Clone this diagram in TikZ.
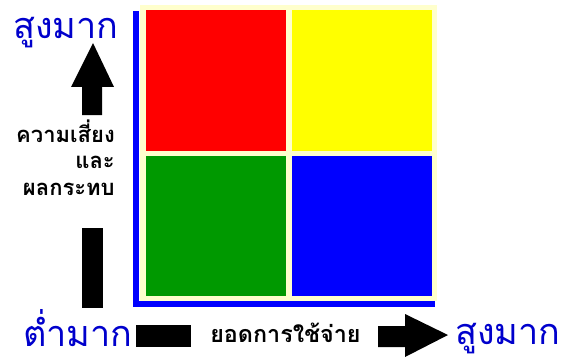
\documentclass[tikz,border=0pt]{standalone}
\usepackage{fontspec}
\newfontfamily\thaifont[Script=Thai]{Loma}
\definecolor{paleyel}{RGB}{255,255,204}
\definecolor{axisblue}{RGB}{0,0,255}
\definecolor{txtblue}{RGB}{0,0,204}
\definecolor{qred}{RGB}{255,0,0}
\definecolor{qyel}{RGB}{255,255,0}
\definecolor{qgreen}{RGB}{0,153,0}
\definecolor{qblue}{RGB}{0,0,255}
\tikzset{
  bigtxt/.style={inner sep=0pt,text=txtblue,font=\thaifont\fontsize{27}{30}\selectfont},
  lbltxt/.style={inner sep=0pt,text=black,font=\thaifont\bfseries\fontsize{16.5}{19}\selectfont},
  xlbltxt/.style={inner sep=0pt,text=black,font=\thaifont\bfseries\fontsize{17.5}{19}\selectfont},
  blk/.style={fill=black,draw=none}
}
\begin{document}
\begin{tikzpicture}[x=0.75pt,y=-0.75pt]
\useasboundingbox (0,0) rectangle (580,356);
% background panel
\fill[paleyel] (140,5) rectangle (437,301);
% axes
\fill[axisblue] (133,11) rectangle (139,307);
\fill[axisblue] (133,301) rectangle (435,307);
% quadrants
\fill[qred] (146,10) rectangle (286,151);
\fill[qyel] (292,10) rectangle (432,151);
\fill[qgreen] (146,156) rectangle (286,296);
\fill[qblue] (292,156) rectangle (432,296);
% up arrow
\fill[blk] (93,43) -- (114,87) -- (102,87) -- (102,115) -- (82,115) -- (82,87) -- (71,87) -- cycle;
\fill[blk] (82,228) rectangle (103,308);
% bottom bar and right arrow
\fill[blk] (136,325) rectangle (191,347);
\fill[blk] (378,326) -- (405,326) -- (405,314) -- (448,335) -- (405,357) -- (405,347) -- (378,347) -- cycle;
% texts
\node[bigtxt,anchor=base west] (hiY) at (13,39) {สูงมาก};
\node[bigtxt,anchor=base west] (lo) at (23,346) {ต่ำมาก};
\node[bigtxt,anchor=base west] (hiX) at (455,344) {สูงมาก};
\node[lbltxt,anchor=base east] (l1) at (115,142) {ความเสี่ยง};
\node[lbltxt,anchor=base east] (l2) at (115,168) {และ};
\node[lbltxt,anchor=base east] (l3) at (115,195) {ผลกระทบ};
\node[xlbltxt,anchor=base west] (xl) at (210,342) {ยอดการใช้จ่าย};
\end{tikzpicture}
\end{document}
